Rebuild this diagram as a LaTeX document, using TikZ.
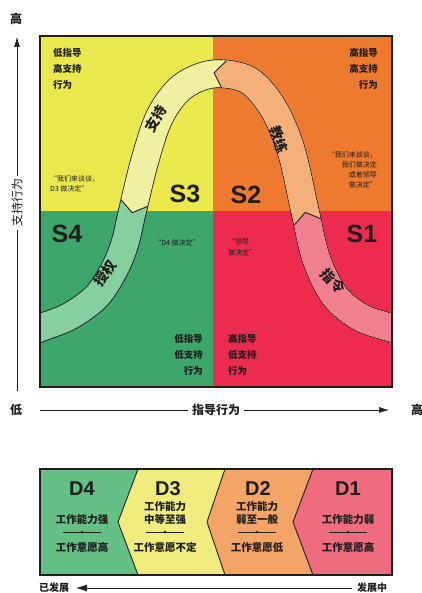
\documentclass[tikz,border=0pt]{standalone}
\usepackage{fontspec}
\setmainfont{Noto Sans CJK SC}
\newfontfamily\lat{Liberation Sans}
\usetikzlibrary{arrows.meta}
\definecolor{cSthree}{HTML}{E9E84C}
\definecolor{cStwo}{HTML}{EE7A2F}
\definecolor{cSfour}{HTML}{3DA66B}
\definecolor{cSone}{HTML}{EC2B4F}
\definecolor{bSthree}{HTML}{F1EFA2}
\definecolor{bStwo}{HTML}{F5AF7B}
\definecolor{bSfour}{HTML}{86CF9E}
\definecolor{bSone}{HTML}{F0808F}
\definecolor{cDfour}{HTML}{66C086}
\definecolor{cDthree}{HTML}{F0EC7E}
\definecolor{cDtwo}{HTML}{F4A466}
\definecolor{cDone}{HTML}{EF6C7E}
\definecolor{ink}{HTML}{1E1E1E}
\begin{document}
\begin{tikzpicture}[x=1pt,y=-1pt,
  small/.style={font=\fontsize{9.5}{16}\selectfont\bfseries, inner sep=0pt, text=ink},
  quote/.style={font=\fontsize{7}{10}\selectfont, inner sep=0pt, text=ink},
  slabel/.style={font={\lat\bfseries\fontsize{25}{25}\selectfont}, inner sep=0pt, text=ink},
  arrlabel/.style={font=\fontsize{14}{14}\selectfont\bfseries, inner sep=0pt, text=ink},
  dlabel/.style={font={\lat\bfseries\fontsize{20}{20}\selectfont}, inner sep=0pt, text=ink},
  dtext/.style={font=\fontsize{10.5}{12.5}\selectfont\bfseries, inner sep=0pt, align=center, text=ink},
  axislbl/.style={font=\fontsize{12}{12}\selectfont\bfseries, inner sep=0pt, text=ink},
  frame/.style={line width=1.3pt, draw=ink},
  thinline/.style={line width=0.6pt, draw=ink},
  chev/.style={line width=0.9pt, draw=ink, line join=miter},
]
\useasboundingbox (0,0) rectangle (422,593);
\def\bandpath{plot[smooth, tension=0.55] coordinates {(10,340) (40,328) (70,316) (97,296) (115,268) (125,243) (132,213) (145,160) (160,116) (182,87) (213,74) (248,80) (273,108) (291,150) (305,211) (316,258) (334,295) (360,317) (392,328) (422,336)}}

% quadrants
\fill[cSthree] (40,36) rectangle (213,211);
\fill[cStwo] (213,36) rectangle (392,211);
\fill[cSfour] (40,211) rectangle (213,387);
\fill[cSone] (213,211) rectangle (392,387);

% chevron points
\coordinate (A3) at (147.9,206.2); \coordinate (T3) at (132.2,212.7); \coordinate (B3) at (121.1,199.8);
\coordinate (A2) at (226.3,60.9);  \coordinate (T2) at (214.1,72.8);  \coordinate (B2) at (221.7,88.1);
\coordinate (A1) at (321.0,218.9); \coordinate (T1) at (305.3,212.3); \coordinate (B1) at (294.2,225.2);

\begin{scope}
  \clip (40,36) rectangle (392,387);
  \draw[line width=28.6pt, ink] \bandpath;
  \draw[line width=26.8pt, bSfour] \bandpath;
  \begin{scope}
    \clip (0,188) -- (B3) -- (T3) -- (A3) -- (185,215) -- (185,400) -- (430,400) -- (430,0) -- (0,0) -- cycle;
    \draw[line width=26.8pt, bSthree] \bandpath;
  \end{scope}
  \begin{scope}
    \clip (237,0) -- (A2) -- (T2) -- (B2) -- (215,127) -- (215,400) -- (430,400) -- (430,0) -- cycle;
    \draw[line width=26.8pt, bStwo] \bandpath;
  \end{scope}
  \begin{scope}
    \clip (430,193) -- (A1) -- (T1) -- (B1) -- (230,240) -- (230,400) -- (430,400) -- cycle;
    \draw[line width=26.8pt, bSone] \bandpath;
  \end{scope}
  \draw[chev] (B3) -- (T3) -- (A3);
  \draw[chev] (B2) -- (T2) -- (A2);
  \draw[chev] (B1) -- (T1) -- (A1);
\end{scope}
\draw[frame] (40,36) rectangle (392,387);

% band labels
\node[arrlabel, rotate=60] (lblzc) at (156,119) {支持};
\node[arrlabel, rotate=-70] (lbljl) at (279,140) {教练};
\node[arrlabel, rotate=55] (lblsq) at (105,273) {授权};
\node[arrlabel, rotate=-48] (lblzl) at (333,281) {指令};

% quadrant labels
\node[slabel] (sthree) at (185,194) {S3};
\node[slabel] (stwo) at (246,195) {S2};
\node[slabel] (sfour) at (67,234) {S4};
\node[slabel] (sone) at (362,234) {S1};

\node[small, align=left, anchor=north west] (tthree) at (53,48) {低指导\\高支持\\行为};
\node[small, align=right, anchor=north east] (ttwo) at (378,48) {高指导\\高支持\\行为};
\node[small, align=right, anchor=north east] (tfour) at (203,334) {低指导\\低支持\\行为};
\node[small, align=left, anchor=north west] (tone) at (228,334) {高指导\\低支持\\行为};

\node[quote, align=left, anchor=north west] (qthree) at (50,175) {“我们来谈谈，\\D3 做决定”};
\node[quote, align=right, anchor=north east] (qtwo) at (377,151) {“我们来谈谈，\\我们做决定\\或者领导\\做决定”};
\node[quote] (qfour) at (177,243) {“D4 做决定”};
\node[quote, align=left, anchor=north west, font=\fontsize{7}{11.5}\selectfont] (qone) at (228,238) {“领导\\做决定”};

% axes
\coordinate (ybot) at (17,391); \coordinate (ytop) at (17,37);
\draw[thinline, -{Latex[length=10pt,width=6pt]}] (ybot) -- (ytop);
\node[axislbl] (yhi) at (16,19) {高};
\node[axislbl, rotate=90, fill=white, inner sep=3pt, font=\fontsize{12}{12}\selectfont] (ylab) at (17,203) {支持行为};

\coordinate (xleft) at (40,410); \coordinate (xright) at (389,410);
\draw[thinline, -{Latex[length=10pt,width=6pt]}] (xleft) -- (xright);
\node[axislbl] (xlo) at (16,410) {低};
\node[axislbl] (xhi) at (417,410) {高};
\node[axislbl, fill=white, inner sep=4pt] (xlab) at (216,410) {指导行为};

% development panel
\fill[cDfour] (40,469) -- (138,469) -- (118,522) -- (138,575) -- (40,575) -- cycle;
\fill[cDthree] (138,469) -- (225,469) -- (207,522) -- (225,575) -- (138,575) -- (118,522) -- cycle;
\fill[cDtwo] (225,469) -- (313,469) -- (293,522) -- (313,575) -- (225,575) -- (207,522) -- cycle;
\fill[cDone] (313,469) -- (392,469) -- (392,575) -- (313,575) -- (293,522) -- cycle;
\draw[chev] (138,469) -- (118,522) -- (138,575);
\draw[chev] (225,469) -- (207,522) -- (225,575);
\draw[chev] (313,469) -- (293,522) -- (313,575);
\draw[frame] (40,469) rectangle (392,575);

\node[dlabel] (dfour) at (82,489) {D4};
\node[dlabel] (dthree) at (168,489) {D3};
\node[dlabel] (dtwo) at (258,489) {D2};
\node[dlabel] (done) at (348,489) {D1};

\node[dtext] (afour) at (82,520) {工作能力强};
\node[dtext] (athree) at (165,513) {工作能力\\中等至强};
\node[dtext] (atwo) at (257,513) {工作能力\\弱至一般};
\node[dtext] (aone) at (348,520) {工作能力弱};

\node[dtext] (wfour) at (82,547) {工作意愿高};
\node[dtext] (wthree) at (165,547) {工作意愿不定};
\node[dtext] (wtwo) at (257,547) {工作意愿低};
\node[dtext] (wone) at (348,547) {工作意愿高};

\foreach \cx in {82,165,257,348} {
  \draw[line width=0.5pt, ink] (\cx-19,532) -- (\cx+19,532);
  \fill[ink] (\cx,532) circle (1.4);
}

\coordinate (dright) at (352,588); \coordinate (dleft) at (76,588);
\draw[thinline, -{Latex[length=11pt,width=7pt]}] (dright) -- (dleft);
\node[axislbl, font=\fontsize{10}{10}\selectfont\bfseries] (ddone) at (54,588) {已发展};
\node[axislbl, font=\fontsize{10}{10}\selectfont\bfseries] (ddev) at (372,588) {发展中};
\end{tikzpicture}
\end{document}
